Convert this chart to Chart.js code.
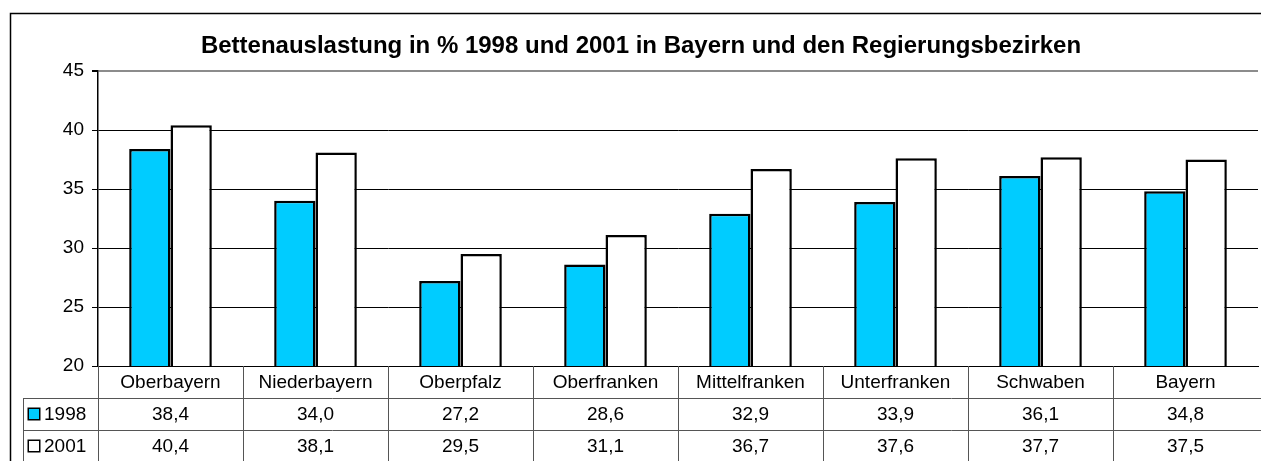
<!DOCTYPE html>
<html>
<head>
<meta charset="utf-8">
<script src="https://cdn.jsdelivr.net/npm/chart.js@4/dist/chart.umd.min.js"></script>
<style>
    html, body { margin: 0; padding: 0; background: #fff; overflow: hidden; }
    #wrap { width: 1261px; height: 461px; }
    #chart { display: block; }
</style>
</head>
<body>
<div id="wrap"><canvas id="chart" width="1261" height="461"></canvas></div>
<script>
// Daten
var categories = ['Oberbayern', 'Niederbayern', 'Oberpfalz', 'Oberfranken', 'Mittelfranken', 'Unterfranken', 'Schwaben', 'Bayern'];
var seriesNames = ['1998', '2001'];
var values1998 = [38.4, 34.0, 27.2, 28.6, 32.9, 33.9, 36.1, 34.8];
var values2001 = [40.4, 38.1, 29.5, 31.1, 36.7, 37.6, 37.7, 37.5];
var yMin = 20, yMax = 45, yStep = 5;
var titleText = 'Bettenauslastung in % 1998 und 2001 in Bayern und den Regierungsbezirken';

var FONT = 'Arial, "Liberation Sans", sans-serif';
var seriesColors = ['#00CCFF', '#FFFFFF'];

function fmt(v) {
    return v.toFixed(1).replace('.', ',');
}

// Rahmen, Titel und Datentabelle
var tablePlugin = {
    id: 'tablePlugin',
    beforeDraw: function (chart) {
        var ctx = chart.ctx;
        ctx.save();
        ctx.fillStyle = '#fff';
        ctx.fillRect(0, 0, chart.width, chart.height);
        ctx.restore();
    },
    afterDraw: function (chart) {
        var ctx = chart.ctx;
        var x = chart.scales.x;
        var area = chart.chartArea;
        var rowH = 32;
        var r1 = area.bottom, r2 = r1 + rowH, r3 = r2 + rowH, r4 = r3 + rowH;
        var legLeft = 23;
        var step = x.getPixelForValue(1) - x.getPixelForValue(0);

        ctx.save();
        // äußerer Rahmen (links und oben)
        ctx.strokeStyle = '#000';
        ctx.lineWidth = 1.5;
        ctx.beginPath();
        ctx.moveTo(10.5, chart.height);
        ctx.lineTo(10.5, 13.5);
        ctx.lineTo(chart.width, 13.5);
        ctx.stroke();

        // Titel
        ctx.fillStyle = '#000';
        ctx.font = 'bold 24px ' + FONT;
        ctx.textAlign = 'center';
        ctx.textBaseline = 'middle';
        ctx.fillText(titleText, 641, 46);

        // Tabellenlinien
        ctx.strokeStyle = '#555';
        ctx.lineWidth = 1;
        ctx.beginPath();
        for (var i = 0; i < categories.length; i++) {
            var lx = Math.round(x.getPixelForValue(i) - step / 2) + 0.5;
            ctx.moveTo(lx, r1);
            ctx.lineTo(lx, r4);
        }
        ctx.moveTo(legLeft + 0.5, r2);
        ctx.lineTo(legLeft + 0.5, r4);
        ctx.moveTo(legLeft, r2 + 0.5);
        ctx.lineTo(chart.width, r2 + 0.5);
        ctx.moveTo(legLeft, r3 + 0.5);
        ctx.lineTo(chart.width, r3 + 0.5);
        ctx.stroke();

        // Texte
        ctx.fillStyle = '#000';
        ctx.font = '19px ' + FONT;
        ctx.textAlign = 'center';
        var rows = [values1998, values2001];
        for (var c = 0; c < categories.length; c++) {
            var cx = x.getPixelForValue(c);
            ctx.fillText(categories[c], cx, r1 + rowH / 2 + 1);
            ctx.fillText(fmt(rows[0][c]), cx, r2 + rowH / 2 + 1);
            ctx.fillText(fmt(rows[1][c]), cx, r3 + rowH / 2 + 1);
        }

        // Legendenschlüssel
        ctx.textAlign = 'left';
        for (var s = 0; s < seriesNames.length; s++) {
            var ry = (s == 0 ? r2 : r3) + rowH / 2;
            ctx.fillStyle = seriesColors[s];
            ctx.fillRect(28, ry - 6, 12, 12);
            ctx.strokeStyle = '#000';
            ctx.lineWidth = 1.5;
            ctx.strokeRect(28.25, ry - 5.75, 11.5, 11.5);
            ctx.fillStyle = '#000';
            ctx.fillText(seriesNames[s], 44, ry + 1);
        }
        ctx.restore();
    }
};

new Chart(document.getElementById('chart').getContext('2d'), {
    type: 'bar',
    data: {
        labels: categories,
        datasets: [
            {
                label: seriesNames[0],
                data: values1998,
                backgroundColor: seriesColors[0],
                borderColor: '#000',
                borderWidth: 2.5,
                borderSkipped: false
            },
            {
                label: seriesNames[1],
                data: values2001,
                backgroundColor: seriesColors[1],
                borderColor: '#000',
                borderWidth: 2.5,
                borderSkipped: false
            }
        ]
    },
    options: {
        responsive: false,
        animation: false,
        events: [],
        layout: { padding: { top: 71, right: 3, bottom: 0, left: 0 } },
        datasets: {
            bar: { categoryPercentage: 0.57, barPercentage: 1.0 }
        },
        plugins: {
            legend: { display: false },
            title: { display: false },
            tooltip: { enabled: false }
        },
        scales: {
            x: {
                ticks: { display: false },
                grid: { display: false, drawTicks: false },
                border: { display: true, color: '#000', width: 1 },
                afterFit: function (s) { s.height = 95; }
            },
            y: {
                min: yMin,
                max: yMax,
                ticks: {
                    stepSize: yStep,
                    color: '#000',
                    padding: 8,
                    font: { family: FONT, size: 19 }
                },
                grid: {
                    tickLength: 6,
                    tickColor: '#000',
                    color: function (c) { return c.tick && c.tick.value == yMax ? '#8c8c8c' : '#000'; },
                    lineWidth: function (c) { return c.tick && c.tick.value == yMax ? 2 : 1; }
                },
                border: { display: true, color: '#000', width: 1.5 },
                afterFit: function (s) { s.width = 98; }
            }
        }
    },
    plugins: [tablePlugin]
});
</script>
</body>
</html>
